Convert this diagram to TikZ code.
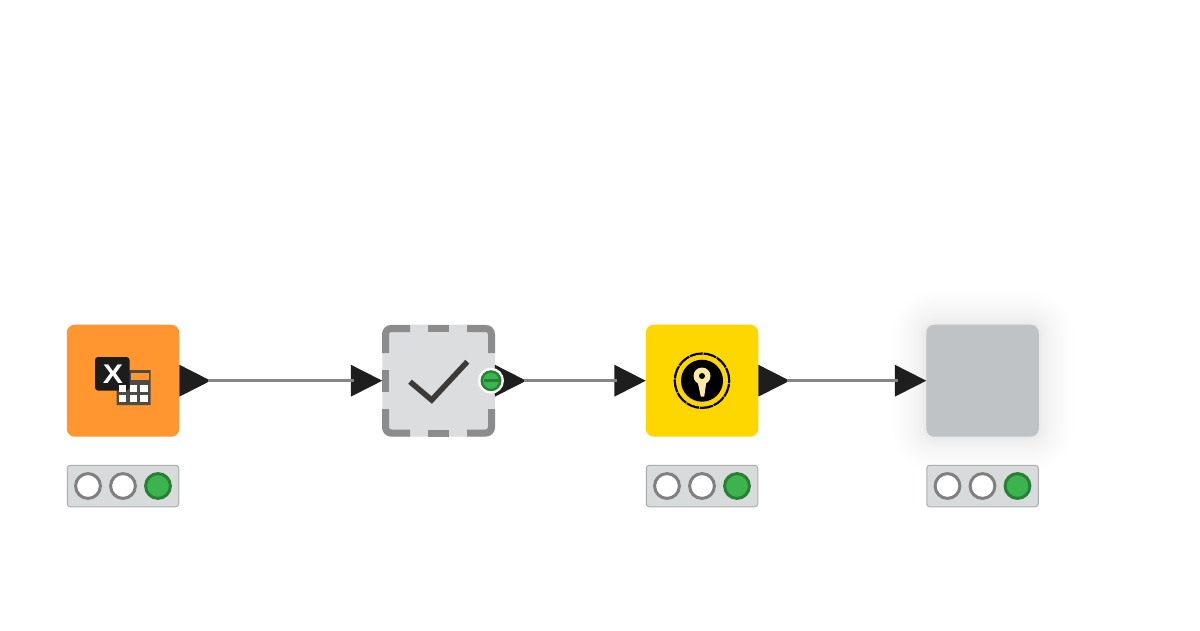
\documentclass[tikz,border=0pt]{standalone}
\usepackage{fontspec}
\setmainfont{Liberation Sans}
\usetikzlibrary{calc}
\definecolor{orangenode}{HTML}{FF9630}
\definecolor{yellownode}{HTML}{FFD700}
\definecolor{graynode}{HTML}{C0C3C6}
\definecolor{metanode}{HTML}{DCDDDF}
\definecolor{dashgray}{HTML}{8C8C8C}
\definecolor{wiregray}{HTML}{868686}
\definecolor{lampgray}{HTML}{808080}
\definecolor{porttip}{HTML}{1F1E1E}
\definecolor{statusfill}{HTML}{D8DBDC}
\definecolor{statusline}{HTML}{ABADAD}
\definecolor{lampgreen}{HTML}{3CB44E}
\definecolor{lampline}{HTML}{2A7F37}
\definecolor{tick}{HTML}{3E3A3A}
\definecolor{keycream}{HTML}{FFE9A8}
\definecolor{iconblack}{HTML}{1C1C1C}
\definecolor{tablegray}{HTML}{4F4A44}
\tikzset{
  wfnode/.style={rectangle,rounded corners=8pt,minimum width=112.5pt,minimum height=112pt,inner sep=0pt,outer sep=0pt},
  statusbar/.style={rectangle,rounded corners=3pt,minimum width=111.5pt,minimum height=41.5pt,inner sep=0pt,outer sep=0pt,draw=statusline,line width=1pt,fill=statusfill},
  lampoff/.style={circle,minimum size=24.8pt,inner sep=0pt,draw=lampgray,line width=3pt,fill=white},
  lampon/.style={circle,minimum size=24.8pt,inner sep=0pt,draw=lampline,line width=3pt,fill=lampgreen},
  wire/.style={draw=wiregray,line width=3pt},
  portfill/.style={fill=porttip},
  dashseg/.style={draw=dashgray,line width=7pt,line cap=butt},
}
\newcommand{\porttri}[1]{\fill[portfill] (#1) -- ++(0,-16) -- ++(31.5,16) -- ++(-31.5,16) -- cycle;}
\newcommand{\lamps}[2]{%
  \node[statusbar] (#1) at (#2,486) {};
  \node[lampoff] (#1a) at ($(#1.center)+(-35,0)$) {};
  \node[lampoff] (#1b) at (#1.center) {};
  \node[lampon] (#1c) at ($(#1.center)+(35,0)$) {};}
\begin{document}
\begin{tikzpicture}[x=1pt,y=-1pt]
\useasboundingbox (0,0) rectangle (1200,630);
\fill[white] (0,0) rectangle (1200,630);
% shadow of the selected node
\foreach \i in {1,...,24}{
  \pgfmathsetmacro{\grow}{\i*\i*0.06}
  \fill[black,opacity=0.0032,rounded corners={(10+\grow)*1pt}] ({926-\grow},{325-\grow}) rectangle ({1039+\grow},{437+\grow});
}
% nodes
\node[wfnode,fill=orangenode] (reader) at (123,380.7) {};
\node[wfnode,fill=metanode] (check) at (438.5,380.7) {};
\node[wfnode,fill=yellownode] (key) at (702,380.7) {};
\node[wfnode,fill=graynode] (sink) at (982.5,380.7) {};
% dashed frame of the component
\draw[dashseg] (410,328.5) [rounded corners=6pt] -- (385.5,328.5) -- (385.5,353);
\draw[dashseg] (428,328.5) -- (449,328.5);
\draw[dashseg] (467,328.5) [rounded corners=6pt] -- (491.5,328.5) -- (491.5,353);
\draw[dashseg] (385.5,370) -- (385.5,392);
\draw[dashseg] (385.5,409) [rounded corners=6pt] -- (385.5,433) -- (410,433);
\draw[dashseg] (428,433) -- (449,433);
\draw[dashseg] (467,433) [rounded corners=6pt] -- (491.5,433) -- (491.5,409);
\draw[tick,line width=5.5pt,line cap=butt,line join=miter] (410,381.7) -- (431.7,400) -- (467.3,361.7);
% ports
\coordinate (readerout) at (reader.east);
\coordinate (checkin) at ($(check.west)+(-31.5,0)$);
\coordinate (checkout) at (check.east);
\coordinate (keyin) at ($(key.west)+(-31.5,0)$);
\coordinate (keyout) at (key.east);
\coordinate (sinkin) at ($(sink.west)+(-31.5,0)$);
\porttri{readerout}
\porttri{checkin}
\porttri{checkout}
\porttri{keyin}
\porttri{keyout}
\porttri{sinkin}
% connectors
\coordinate (w1a) at ($(readerout)+(29,0)$);
\coordinate (w1b) at ($(checkin)+(3,0)$);
\coordinate (w2a) at ($(checkout)+(29,0)$);
\coordinate (w2b) at ($(keyin)+(3,0)$);
\coordinate (w3a) at ($(keyout)+(29,0)$);
\coordinate (w3b) at ($(sinkin)+(3,0)$);
\draw[wire] (w1a) -- (w1b);
\draw[wire] (w2a) -- (w2b);
\draw[wire] (w3a) -- (w3b);
% status dot on the component
\fill[white] (491,380.7) circle (13pt);
\fill[lampline] (491,380.7) circle (10.5pt);
\fill[lampgreen] (491,380.7) circle (8pt);
\fill[lampline] (483.5,379.4) rectangle (498.5,382);
% status bars
\lamps{sa}{123}
\lamps{sb}{702}
\lamps{sc}{982.5}
% spreadsheet icon
\fill[tablegray] (129,370) -- (150.7,370) -- (150.7,405) -- (116.5,405) -- (116.5,390) -- (129,390) -- cycle;
\fill[iconblack,rounded corners=3pt] (95,357) rectangle (129.5,390.5);
\node[text=white,font=\bfseries\fontsize{27}{27}\selectfont,inner sep=0pt,xscale=1.12] (xmark) at (113,374.5) {X};
\fill[orangenode] (130.5,373) rectangle (148.5,380);
\foreach \cx in {118.6,129.5,140.4}{
  \foreach \cy in {385.2,395.2}{
    \fill[white] (\cx,\cy) rectangle ++(7.2,6.6);
  }
}
% key icon
\draw[black,line width=2.6pt,dash pattern=on 13pt off 0.9pt] (702,380.7) circle (27pt);
\draw[yellownode,line width=1pt] (702,380.7) circle (25.5pt);
\fill[black] (702,380.7) circle (21pt);
\fill[keycream] (702,376) circle (8.5pt);
\fill[keycream] (697.5,381) -- (706.5,381) -- (704.2,396.7) -- (700.8,396.7) -- cycle;
\fill[black] (702,376) circle (3pt);
\end{tikzpicture}
\end{document}
